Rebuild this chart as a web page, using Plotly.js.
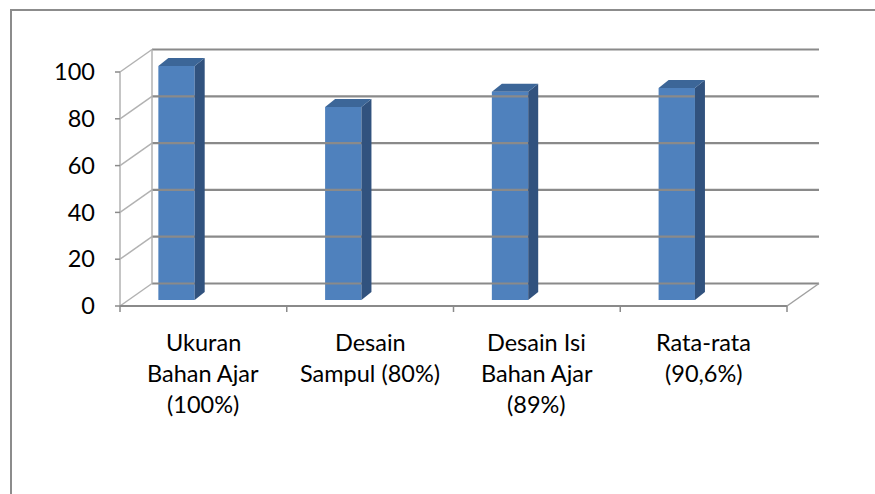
<!DOCTYPE html>
<html>
<head>
<meta charset="utf-8">
<script src="https://cdn.plot.ly/plotly-3.0.1.min.js"></script>
<style>
html,body{margin:0;padding:0;background:#fff;}
#chart{width:875px;height:494px;}
</style>
</head>
<body>
<div id="chart"></div>
<script>
// ---- data ----
const categories = ["Ukuran Bahan Ajar", "Desain Sampul", "Desain Isi Bahan Ajar", "Rata-rata"];
const categoryLabels = [
  ["Ukuran", "Bahan Ajar", "(100%)"],
  ["Desain", "Sampul (80%)"],
  ["Desain Isi", "Bahan Ajar", "(89%)"],
  ["Rata-rata", "(90,6%)"]
];
const values = [100, 82.5, 89, 90.6];
const yTickVals = [0, 20, 40, 60, 80, 100];

// ---- geometry (pixel scale of the front plane) ----
const W = 875, H = 494;
const M = {l: 115, r: 53, t: 40, b: 182};
const plotW = W - M.l - M.r, plotH = H - M.t - M.b;
const PXX = 166.75;            // px per category
const PXY = 2.34;              // px per value unit
const xmin = -0.5 - 5 / PXX, xmax = xmin + plotW / PXX;
const ymin = -6 / PXY, ymax = ymin + plotH / PXY;
const DX = 32 / PXX, DY = 22.5 / PXY;   // depth of the box
const n = categories.length;
const X0 = -0.5, X1 = n - 0.5;
const FONT = {family: 'Lato, sans-serif', size: 23.5, color: '#000'};

const GRID = '#8a8a8a', WALL = '#b2b2b2';
const traces = [];
function seg(xs, ys, color, width) {
  traces.push({type: 'scatter', mode: 'lines', x: xs, y: ys,
    line: {color: color, width: width}, hoverinfo: 'skip', showlegend: false});
}
// back wall gridlines
yTickVals.forEach(v => seg([X0 + DX, X1 + DX], [v + DY, v + DY], GRID, 2.2));
// left wall
seg([X0, X0], [0, yTickVals[yTickVals.length - 1]], WALL, 1.5);
seg([X0 + DX, X0 + DX], [DY, yTickVals[yTickVals.length - 1] + DY], WALL, 1.5);
yTickVals.forEach(v => seg([X0, X0 + DX], [v, v + DY], WALL, 1.5));
// floor
seg([X0, X1], [0, 0], GRID, 2);
seg([X1, X1 + DX], [0, DY], '#a0a0a0', 1.5);
// y tick marks
yTickVals.forEach(v => seg([X0 - 8 / PXX, X0], [v, v], GRID, 1.5));
// x tick marks (category boundaries)
for (let i = 0; i <= n; i++) seg([i - 0.5, i - 0.5], [0, -6 / PXY], GRID, 1.5);

// bars
const F = 0.27;                 // depth position of bar front face
const base = F * DY;
const barOff = -0.27, barW = 0.218;
const bdx = 10 / PXX, bdy = 8 / PXY;
traces.push({type: 'bar', x: categories.map((c, i) => i), y: values, base: base,
  width: barW, offset: barOff, marker: {color: '#4F81BD', line: {width: 0}},
  hoverinfo: 'skip', showlegend: false});
values.forEach((v, i) => {
  const xl = i + barOff, xr = xl + barW, top = base + v;
  traces.push({type: 'scatter', mode: 'lines', fill: 'toself', fillcolor: '#31527E',
    x: [xr, xr, xr + bdx, xr + bdx, xr], y: [base, top, top + bdy, base + bdy, base],
    line: {width: 0, color: '#31527E'}, hoverinfo: 'skip', showlegend: false});
  traces.push({type: 'scatter', mode: 'lines', fill: 'toself', fillcolor: '#3C6698',
    x: [xl, xr, xr + bdx, xl + bdx, xl], y: [top, top, top + bdy, top + bdy, top],
    line: {width: 0, color: '#3C6698'}, hoverinfo: 'skip', showlegend: false});
});

// category labels (one annotation per line)
const annotations = [];
categoryLabels.forEach((lines, i) => {
  lines.forEach((t, j) => {
    annotations.push({x: i, y: 0, xref: 'x', yref: 'y', text: t, showarrow: false,
      xanchor: 'center', yanchor: 'top', yshift: -20 - 31 * j, font: FONT});
  });
});

const layout = {
  width: W, height: H, margin: M,
  paper_bgcolor: '#fff', plot_bgcolor: 'rgba(0,0,0,0)',
  showlegend: false, barmode: 'overlay',
  xaxis: {range: [xmin, xmax], showgrid: false, zeroline: false, showline: false,
    showticklabels: false, ticks: '', fixedrange: true},
  yaxis: {range: [ymin, ymax], showgrid: false, zeroline: false, showline: false,
    tickvals: yTickVals, ticktext: yTickVals.map(String), ticks: '',
    ticklabelstandoff: 19, tickfont: FONT, fixedrange: true},
  annotations: annotations,
  shapes: [{type: 'path', xref: 'paper', yref: 'paper',
    path: 'M ' + ((11 - M.l) / plotW) + ' -2 L ' + ((11 - M.l) / plotW) + ' ' + (1 + (M.t - 10) / plotH) +
          ' L 2 ' + (1 + (M.t - 10) / plotH),
    line: {color: '#8c8c8c', width: 2}}]
};
Plotly.newPlot('chart', traces, layout, {staticPlot: true, displayModeBar: false});
</script>
</body>
</html>
